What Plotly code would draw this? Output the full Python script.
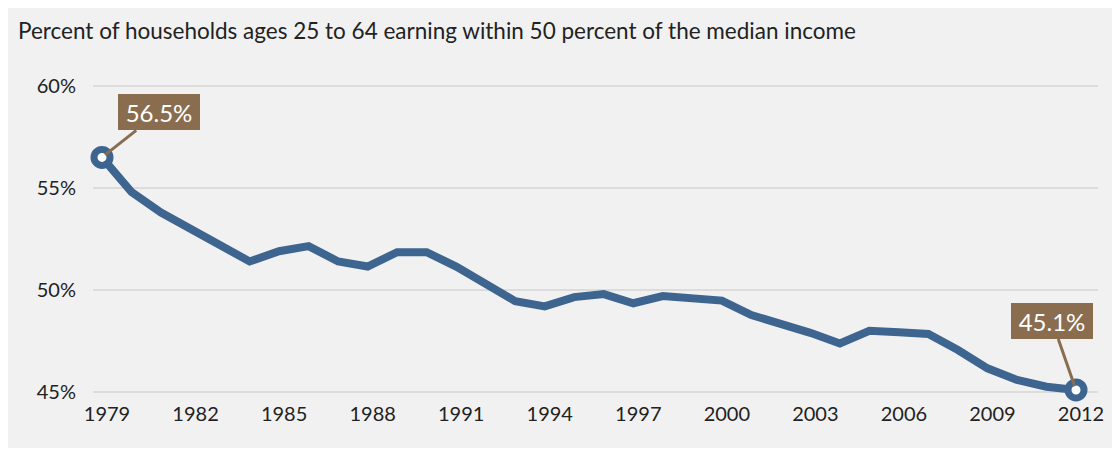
import plotly.graph_objects as go

years = list(range(1979, 2013))
share = [56.5, 54.8, 53.8, 53.0, 52.2, 51.4, 51.9, 52.15, 51.4, 51.15,
         51.85, 51.85, 51.15, 50.35, 49.45, 49.2, 49.65, 49.8, 49.35, 49.7,
         49.6, 49.48, 48.77, 48.37, 47.9, 47.38, 48.0, 47.93, 47.84, 47.06,
         46.16, 45.59, 45.26, 45.1]
tick_years = list(range(1979, 2013, 3))
y_ticks = [45, 50, 55, 60]
y_tick_labels = ["45%", "50%", "55%", "60%"]
title_text = "Percent of households ages 25 to 64 earning within 50 percent of the median income"

W, H = 1120, 440
L, R, T, B = 85, 30, 62, 48

BG = "#f1f1f1"
BLUE = "#3e658f"
BROWN = "#8a6d4f"
FONT = "Lato"

fig = go.Figure()
fig.add_trace(go.Scatter(
    x=years, y=share, mode="lines",
    line=dict(color=BLUE, width=8),
    hoverinfo="skip", showlegend=False,
))
fig.add_trace(go.Scatter(
    x=[years[0], years[-1]], y=[share[0], share[-1]], mode="markers",
    marker=dict(size=16, color="white", line=dict(color=BLUE, width=7)),
    hoverinfo="skip", showlegend=False, cliponaxis=False,
))

def label(i, ax, ay):
    fig.add_annotation(
        x=years[i], y=share[i], text=f"{share[i]:.1f}%",
        showarrow=True, arrowhead=0, arrowwidth=3, arrowcolor=BROWN,
        ax=ax, ay=ay, standoff=4,
        bgcolor=BROWN, font=dict(family=FONT, size=24, color="white"),
        width=78, height=32, borderpad=2, borderwidth=0,
    )

label(0, 57, -45)
label(len(years) - 1, -24, -69)

fig.update_layout(
    width=W, height=H,
    margin=dict(l=L, r=R, t=T, b=B),
    paper_bgcolor=BG, plot_bgcolor=BG,
    font=dict(family=FONT, size=20, color="#222222"),
    title=dict(text=title_text, xref="container", yref="container",
               x=10 / W, xanchor="left", y=1 - 23 / H, yanchor="middle",
               font=dict(family=FONT, size=22.5, color="#222222")),
    xaxis=dict(range=[1978.695, 2012.745], tickvals=tick_years,
               ticktext=[str(y) for y in tick_years],
               showgrid=False, zeroline=False, showline=False,
               ticklabelshift=5,
               tickfont=dict(size=20)),
    yaxis=dict(range=[45 - 8 / 20.4, 60 + 16 / 20.4], tickvals=y_ticks,
               ticktext=y_tick_labels, showgrid=True, gridcolor="#dcdcdc",
               gridwidth=1.5, zeroline=False, showline=False,
               ticklabelstandoff=16, tickfont=dict(size=20)),
)

fig.write_html("out.html")
